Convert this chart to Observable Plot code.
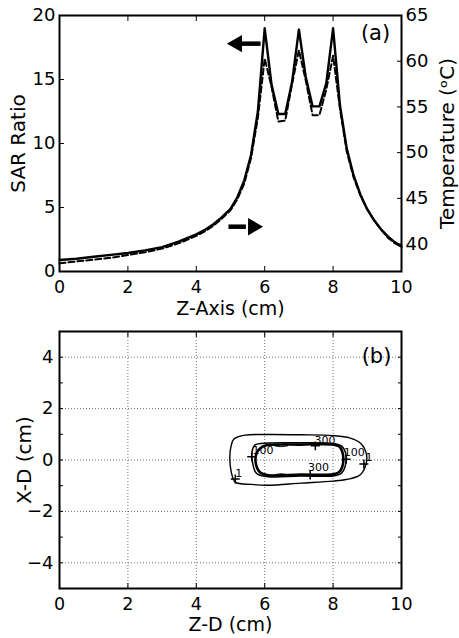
<!DOCTYPE html>
<html><head><meta charset="utf-8">
<script src="https://cdn.jsdelivr.net/npm/d3@7"></script>
<script src="https://cdn.jsdelivr.net/npm/@observablehq/plot@0.6"></script>
<style>
body{margin:0;background:#fff;}
#chart svg{display:block;}
</style></head><body><div id="chart"></div>
<script>
// ---- Panel (a) data ----
const zAxis = [0,0.5,1,1.5,2,2.5,3,3.5,4,4.25,4.5,4.75,5,5.2,5.4,5.6,5.8,6,6.2,6.4,6.6,6.8,7,7.2,7.4,7.6,7.8,8,8.2,8.4,8.6,8.8,9,9.2,9.4,9.6,9.8,10];
const sarRatio = [0.9,1.0,1.15,1.3,1.45,1.65,1.9,2.35,2.9,3.25,3.7,4.25,4.9,5.8,7.1,9.1,12.5,19.0,14.6,12.3,12.3,14.8,18.9,15.2,12.9,12.9,14.7,19.0,13.0,9.6,7.5,6.0,4.85,4.0,3.3,2.75,2.3,1.95];
const temperature = [37.9,38.1,38.3,38.5,38.8,39.1,39.5,40.1,40.9,41.4,42.0,42.8,43.7,44.9,46.6,49.4,53.8,60.3,57.2,53.4,53.5,57.5,61.2,57.9,54.1,54.1,56.9,60.6,54.8,50.1,47.3,45.3,43.8,42.6,41.6,40.7,40.1,39.7];
const xTicks = [0,2,4,6,8,10];
const sarTicks = [0,5,10,15,20];
const tempTicks = [40,45,50,55,60,65];
const tempDomain = [37,65];
const arrowsA = [
  {shaft1: 5.32, shaft2: 5.88, head: 5.19, y: 17.8, rotate: -90, dash: null},
  {shaft1: 4.94, shaft2: 5.45, head: 5.66, y: 3.5, rotate: 90, dash: "4,1.5"}
];
const panelLabelA = [{x: 9.24, y: 18.6, t: "(a)"}];

// ---- Panel (b) data ----
const contour1 = [[5.10,0.82],[5.43,0.97],[6.10,0.99],[7.05,0.98],[8.0,0.95],[8.48,0.86],[8.81,0.64],[8.98,0.19],[8.94,-0.26],[8.77,-0.6],[8.38,-0.76],[8.0,-0.82],[7.05,-0.9],[6.1,-0.98],[5.62,-0.95],[5.14,-0.86],[5.02,-0.45],[4.98,0.13],[5.02,0.56]];
const contour100 = [[5.71,0.58],[6.1,0.66],[7.05,0.67],[8.0,0.64],[8.24,0.55],[8.38,0.19],[8.35,-0.26],[8.24,-0.52],[8.0,-0.62],[7.05,-0.62],[6.1,-0.65],[5.76,-0.52],[5.64,-0.06],[5.64,0.39]];
const contour300 = [[5.86,0.45],[6.05,0.57],[7.05,0.6],[8.0,0.6],[8.19,0.51],[8.29,0.19],[8.27,-0.26],[8.17,-0.48],[8.0,-0.56],[7.05,-0.57],[6.1,-0.59],[5.86,-0.48],[5.74,-0.13],[5.76,0.26]];
const island300a = [[6.28,0.56],[6.48,0.60],[6.68,0.56],[6.48,0.52]];
const island300b = [[6.28,-0.58],[6.48,-0.54],[6.68,-0.58],[6.48,-0.62]];
const contourLabels = [
  {x: 5.24, y: -0.52, t: "1"}, {x: 9.05, y: 0.08, t: "1"},
  {x: 8.62, y: 0.30, t: "100"}, {x: 5.95, y: 0.39, t: "100"},
  {x: 7.76, y: 0.75, t: "300"}, {x: 7.57, y: -0.30, t: "300"}
];
const plusMarks = [[5.62,0.13],[7.48,0.55],[8.38,0.03],[8.9,-0.16],[5.14,-0.74],[7.33,-0.58]];
const xTicksB = [0,2,4,6,8,10];
const yLabelsB = [-4,-2,0,2,4];
const yMinorB = [-5,-4,-3,-2,-1,0,1,2,3,4,5];
const gridXB = [2,4,6,8];
const gridYB = [-4,-2,0,2,4];
const panelLabelB = [{x: 9.27, y: 4.05, t: "(b)"}];

const FONT = "DejaVu Sans";
const toL = t => (t - tempDomain[0]) * 20 / (tempDomain[1] - tempDomain[0]);
const fromL = l => tempDomain[0] + l * (tempDomain[1] - tempDomain[0]) / 20;
const rowsA = zAxis.map((z, i) => ({z, sar: sarRatio[i], temp: temperature[i]}));
const centered = {textAnchor: "middle", lineAnchor: "middle", text: d => d, fontSize: 20};

const plotA = Plot.plot({
  width: 459, height: 320,
  marginTop: 15, marginBottom: 49, marginLeft: 59, marginRight: 58,
  style: {fontFamily: FONT, fontSize: "18px", color: "#000", background: "#fff"},
  x: {domain: [0, 10]},
  y: {domain: [0, 20]},
  marks: [
    Plot.line(rowsA, {x: "z", y: d => toL(d.temp), stroke: "#000", strokeWidth: 2, strokeDasharray: "6,3"}),
    Plot.line(rowsA, {x: "z", y: "sar", stroke: "#000", strokeWidth: 2.4}),
    Plot.link(arrowsA, {x1: "shaft1", x2: "shaft2", y1: "y", y2: "y", stroke: "#000", strokeWidth: 4.5, strokeDasharray: d => d.dash}),
    Plot.dot(arrowsA, {x: "head", y: "y", symbol: "triangle", r: 5.5, fill: "#000", stroke: "#000", rotate: "rotate"}),
    Plot.text(panelLabelA, {x: "x", y: "y", text: "t", fontSize: 21}),
    Plot.axisX({ticks: xTicks, tickSize: -5, tickPadding: 14, label: null, fontSize: 17.5}),
    Plot.axisX({anchor: "top", ticks: xTicks, tickSize: -5, tickFormat: () => "", label: null}),
    Plot.axisY({ticks: sarTicks, tickSize: -5, tickPadding: 9, label: null, fontSize: 18}),
    Plot.axisY({anchor: "right", ticks: tempTicks.map(toL), tickFormat: d => String(Math.round(fromL(d))), tickSize: -5, tickPadding: 9, label: null, fontSize: 18}),
    Plot.frame({stroke: "#000", strokeWidth: 2}),
    Plot.text(["SAR Ratio"], {...centered, frameAnchor: "left", dx: -41, rotate: -90}),
    Plot.text(["Temperature (ᵒC)"], {...centered, frameAnchor: "right", dx: 46, rotate: -90}),
    Plot.text(["Z-Axis (cm)"], {...centered, frameAnchor: "bottom", dy: 37.5, fontSize: 19})
  ]
});

const toRows = (pts) => pts.map(([x, y]) => ({x, y}));
const plotB = Plot.plot({
  width: 459, height: 318,
  marginTop: 11, marginBottom: 50, marginLeft: 59, marginRight: 58,
  style: {fontFamily: FONT, fontSize: "18px", color: "#000", background: "#fff"},
  x: {domain: [0, 10]},
  y: {domain: [-5, 5]},
  marks: [
    Plot.gridX({ticks: gridXB, stroke: "#000", strokeOpacity: 0.55, strokeDasharray: "1,2"}),
    Plot.gridY({ticks: gridYB, stroke: "#000", strokeOpacity: 0.55, strokeDasharray: "1,2"}),
    Plot.line(toRows(contour1), {x: "x", y: "y", curve: "catmull-rom-closed", stroke: "#000", strokeWidth: 1.4}),
    Plot.line(toRows(contour100), {x: "x", y: "y", curve: "catmull-rom-closed", stroke: "#000", strokeWidth: 1.5}),
    Plot.line(toRows(contour300), {x: "x", y: "y", curve: "catmull-rom-closed", stroke: "#000", strokeWidth: 2.6}),
    Plot.line(toRows(island300a), {x: "x", y: "y", curve: "catmull-rom-closed", stroke: "#000", strokeWidth: 1}),
    Plot.line(toRows(island300b), {x: "x", y: "y", curve: "catmull-rom-closed", stroke: "#000", strokeWidth: 1}),
    Plot.dot(toRows(plusMarks), {x: "x", y: "y", symbol: "plus", r: 3, stroke: "#000", strokeWidth: 1.5}),
    Plot.text(contourLabels, {x: "x", y: "y", text: "t", fontSize: 11, fill: "#000"}),
    Plot.text(panelLabelB, {x: "x", y: "y", text: "t", fontSize: 21}),
    Plot.axisX({ticks: xTicksB, tickSize: -5, tickPadding: 14, label: null, fontSize: 17.5}),
    Plot.axisX({anchor: "top", ticks: xTicksB, tickSize: -5, tickFormat: () => "", label: null}),
    Plot.axisY({ticks: yMinorB, tickSize: -4, tickFormat: () => "", label: null}),
    Plot.axisY({ticks: yLabelsB, tickSize: 0, tickPadding: 6, label: null, fontSize: 18}),
    Plot.axisY({anchor: "right", ticks: yMinorB, tickSize: -4, tickFormat: () => "", label: null}),
    Plot.frame({stroke: "#000", strokeWidth: 2}),
    Plot.text(["X-D (cm)"], {...centered, frameAnchor: "left", dx: -35, rotate: -90}),
    Plot.text(["Z-D (cm)"], {...centered, frameAnchor: "bottom", dy: 36, fontSize: 19})
  ]
});

const root = document.getElementById("chart");
root.appendChild(plotA);
root.appendChild(plotB);
</script>
</body></html>
